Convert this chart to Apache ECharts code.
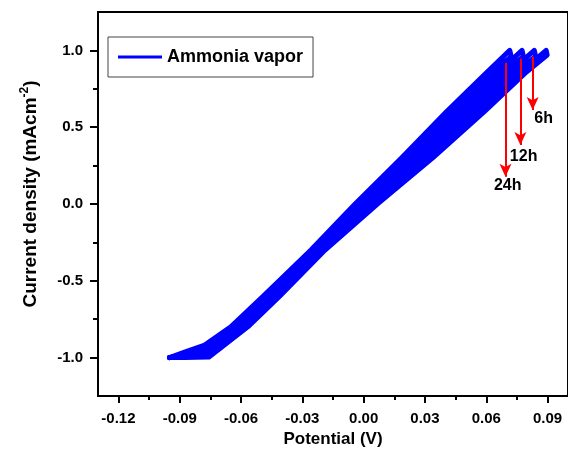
<!DOCTYPE html>
<html><head><meta charset="utf-8">
<script src="https://cdn.jsdelivr.net/npm/echarts@6/dist/echarts.min.js"></script>
<style>html,body{margin:0;padding:0;background:#fff}#c{width:568px;height:456px}</style>
</head><body><div id="c"></div>
<script>
// Four CV loops (forward scan up, reverse scan down), [V, mA/cm2]
const loop1 = [[-0.0950,-1.0],[-0.0876,-0.964],[-0.0778,-0.919],[-0.0650,-0.8],[-0.0491,-0.6],[-0.0258,-0.3],[-0.0042,0],[0.0185,0.3],[0.0405,0.6],[0.0597,0.85],[0.0715,1.0],
  [0.0722,0.96],[0.0624,0.85],[0.0431,0.6],[0.0207,0.3],[-0.0026,0],[-0.0248,-0.3],[-0.0480,-0.6],[-0.0638,-0.8],[-0.0775,-0.930],[-0.0876,-0.978],[-0.0950,-1.0]];
const loop2 = [[-0.0950,-1.0],[-0.0876,-0.974],[-0.0772,-0.941],[-0.0626,-0.8],[-0.0468,-0.6],[-0.0238,-0.3],[-0.0011,0],[0.0229,0.3],[0.0458,0.6],[0.0652,0.85],[0.0775,1.0],
  [0.0782,0.96],[0.0679,0.85],[0.0484,0.6],[0.0251,0.3],[0.0005,0],[-0.0228,-0.3],[-0.0457,-0.6],[-0.0614,-0.8],[-0.0769,-0.952],[-0.0876,-0.984],[-0.0950,-1.0]];
const loop3 = [[-0.0950,-1.0],[-0.0876,-0.984],[-0.0766,-0.963],[-0.0603,-0.8],[-0.0445,-0.6],[-0.0219,-0.3],[0.0020,0],[0.0272,0.3],[0.0510,0.6],[0.0707,0.85],[0.0835,1.0],
  [0.0842,0.96],[0.0734,0.85],[0.0536,0.6],[0.0294,0.3],[0.0036,0],[-0.0209,-0.3],[-0.0434,-0.6],[-0.0591,-0.8],[-0.0763,-0.974],[-0.0876,-0.990],[-0.0950,-1.0]];
const loop4 = [[-0.0950,-1.0],[-0.0876,-0.994],[-0.0760,-0.985],[-0.0579,-0.8],[-0.0422,-0.6],[-0.0199,-0.3],[0.0051,0],[0.0316,0.3],[0.0563,0.6],[0.0761,0.85],[0.0893,1.0],
  [0.0898,0.97],[0.0789,0.85],[0.0589,0.6],[0.0338,0.3],[0.0067,0],[-0.0189,-0.3],[-0.0411,-0.6],[-0.0567,-0.8],[-0.0757,-0.996],[-0.0876,-1.0],[-0.0950,-1.0]];

// Arrows and their labels
const arrowX = [0.0827, 0.0767, 0.0694];
const arrowTop = [0.958, 0.945, 0.919];
const arrowTip = [0.612, 0.384, 0.178];
const labelText = ['6h', '12h', '24h'];
const labelX = [0.0881, 0.0783, 0.0705];
const labelY = [0.554, 0.306, 0.117];

// Ticks
const xMajor = [-0.12,-0.09,-0.06,-0.03,0,0.03,0.06,0.09];
const xMinor = [-0.105,-0.075,-0.045,-0.015,0.015,0.045,0.075];
const yMajor = [-1,-0.5,0,0.5,1];
const yMinor = [-0.75,-0.25,0.25,0.75];

const FONT = 'Liberation Sans, Arial, sans-serif';
const chart = echarts.init(document.getElementById('c'), null, {renderer:'canvas'});

const loops = [loop1, loop2, loop3, loop4];
const series = loops.map(d => ({
  name: 'Ammonia vapor', type: 'line', data: d, symbol: 'none', smooth: false,
  lineStyle: {color: '#0000ff', width: 5, join: 'round', cap: 'round'}, itemStyle: {color: '#0000ff'}, z: 2,
  emphasis: {disabled: true}
}));
series.push({
  name: 'arrows', type: 'scatter', symbolSize: 0, z: 5, silent: true,
  itemStyle: {opacity: 1},
  data: labelX.map((x, i) => ({value: [x, labelY[i]], label: {formatter: labelText[i]}})),
  label: {show: true, position: 'inside', color: '#000', fontFamily: FONT, fontWeight: 'bold', fontSize: 16},
  markLine: {
    silent: true, symbol: ['none', 'arrow'], symbolSize: [9, 13], animation: false,
    lineStyle: {color: '#ff0000', width: 2, type: 'solid', opacity: 1},
    label: {show: false},
    data: arrowX.map((x, i) => [{coord: [x, arrowTop[i]]}, {coord: [x, arrowTip[i]]}])
  }
});

chart.setOption({
  animation: false,
  backgroundColor: '#fff',
  grid: {left: 98, top: 12, right: -3, bottom: 60, show: true, borderColor: '#000', borderWidth: 2},
  legend: {
    data: ['Ammonia vapor'], left: 108, top: 37, padding: [11, 10, 11, 10],
    borderColor: '#444', borderWidth: 1, backgroundColor: '#fff',
    icon: 'rect', itemWidth: 44, itemHeight: 3,
    textStyle: {fontFamily: FONT, fontWeight: 'bold', fontSize: 18, color: '#000'}
  },
  xAxis: [{
    type: 'value', min: -0.13, max: 0.1, position: 'bottom',
    axisLine: {show: true, onZero: false, lineStyle: {color: '#000', width: 2}},
    axisTick: {show: true, customValues: xMajor, length: 7, lineStyle: {color: '#000', width: 2}},
    axisLabel: {customValues: xMajor, formatter: v => v.toFixed(2), margin: 15,
      color: '#000', fontFamily: FONT, fontWeight: 'bold', fontSize: 15},
    splitLine: {show: false},
    name: 'Potential (V)', nameLocation: 'middle', nameGap: 34,
    nameTextStyle: {fontFamily: FONT, fontWeight: 'bold', fontSize: 17, color: '#000'}
  }, {
    type: 'value', min: -0.13, max: 0.1, position: 'bottom', offset: 0,
    axisLine: {show: false, onZero: false},
    axisTick: {show: true, customValues: xMinor, length: 4, lineStyle: {color: '#000', width: 2}},
    axisLabel: {show: false}, splitLine: {show: false}
  }],
  yAxis: [{
    type: 'value', min: -1.25, max: 1.25, position: 'left',
    axisLine: {show: true, onZero: false, lineStyle: {color: '#000', width: 2}},
    axisTick: {show: true, customValues: yMajor, length: 8, lineStyle: {color: '#000', width: 2}},
    axisLabel: {customValues: yMajor, formatter: v => v.toFixed(1), margin: 15,
      color: '#000', fontFamily: FONT, fontWeight: 'bold', fontSize: 15},
    splitLine: {show: false},
    name: '{n|Current density (mAcm}{s|-2}{n|)}', nameLocation: 'middle', nameGap: 58,
    nameTextStyle: {color: '#000', fontFamily: FONT, fontWeight: 'bold', fontSize: 19,
      padding: [0, 0, 0, 20],
      rich: {
        n: {fontFamily: FONT, fontWeight: 'bold', fontSize: 19, color: '#000', verticalAlign: 'bottom'},
        s: {fontFamily: FONT, fontWeight: 'bold', fontSize: 12, color: '#000', verticalAlign: 'bottom', padding: [0, 0, 9, 0]}
      }}
  }, {
    type: 'value', min: -1.25, max: 1.25, position: 'left', offset: 0,
    axisLine: {show: false, onZero: false},
    axisTick: {show: true, customValues: yMinor, length: 5, lineStyle: {color: '#000', width: 2}},
    axisLabel: {show: false}, splitLine: {show: false}
  }],
  series: series
});
</script></body></html>
